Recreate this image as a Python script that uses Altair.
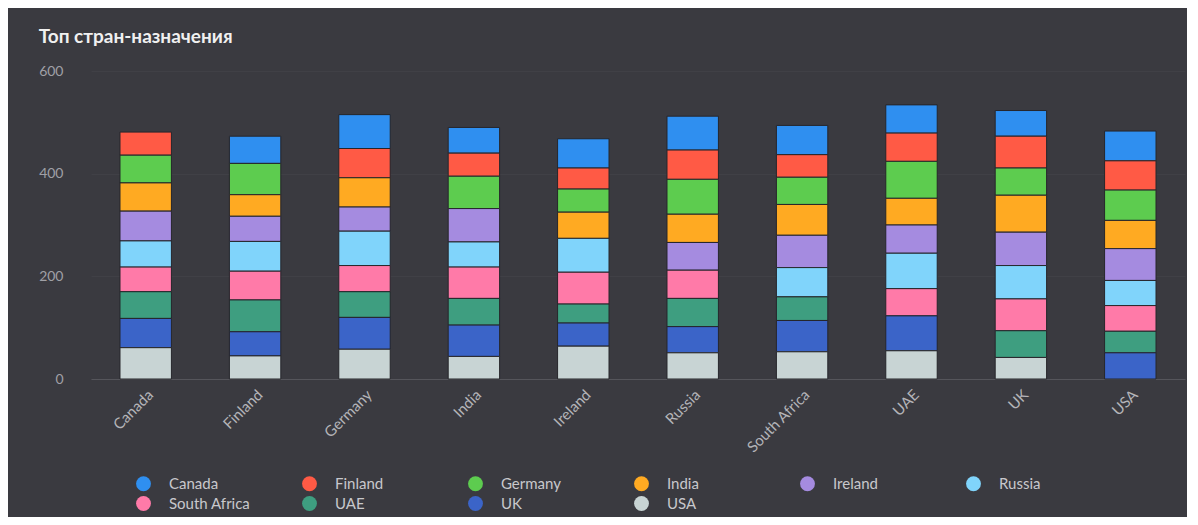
import altair as alt
import pandas as pd

origins = ["Canada", "Finland", "Germany", "India", "Ireland", "Russia",
           "South Africa", "UAE", "UK", "USA"]
destinations = ["Canada", "Finland", "Germany", "India", "Ireland", "Russia",
                "South Africa", "UAE", "UK", "USA"]
colors = ["#2f8ff0", "#ff5a45", "#5dcc4f", "#ffaa22", "#a58be0", "#80d4fb",
          "#ff7aa8", "#3e9e80", "#3b64c8", "#c8d4d4"]

# values per destination, listed in origin order (None = the country itself)
canada = [None, 53, 66, 50, 57, 66, 57, 55, 50, 58]
finland = [45, None, 57, 45, 41, 57, 44, 55, 62, 57]
germany = [54, 61, None, 63, 45, 68, 53, 72, 53, 59]
india = [55, 42, 57, None, 51, 55, 60, 52, 72, 55]
ireland = [58, 49, 47, 65, None, 54, 63, 55, 65, 62]
russia = [51, 58, 67, 49, 66, None, 57, 69, 65, 49]
south_africa = [48, 56, 51, 61, 62, 55, None, 53, 62, 50]
uae = [52, 62, 50, 52, 37, 55, 46, None, 52, 42]
uk = [57, 47, 62, 61, 45, 51, 61, 68, None, 51]
usa = [61, 45, 58, 44, 64, 51, 53, 55, 42, None]

series = [canada, finland, germany, india, ireland, russia, south_africa, uae, uk, usa]

rows = []
for di, (dest, vals) in enumerate(zip(destinations, series)):
    for orig, v in zip(origins, vals):
        if v is not None:
            rows.append({"origin": orig, "dest": dest, "idx": di, "value": v})
df = pd.DataFrame(rows)

font = "Lato"

chart = alt.Chart(df).mark_bar(stroke="#26262b", strokeWidth=1).encode(
    x=alt.X("origin:N", sort=origins, title=None,
            scale=alt.Scale(paddingInner=0.53, paddingOuter=0.265),
            axis=alt.Axis(labelAngle=315, labelColor="#b4b4b8", labelFontSize=15,
                          labelFont=font, ticks=False, domain=True,
                          domainColor="#55555b", labelPadding=8)),
    y=alt.Y("value:Q", stack="zero", title=None,
            scale=alt.Scale(domain=[0, 600]),
            axis=alt.Axis(values=[0, 200, 400, 600], labelColor="#a0a0a6",
                          labelFontSize=14, labelFont=font, ticks=False,
                          domain=False, labelPadding=28, grid=True,
                          gridColor="#46464c", gridOpacity=0.5)),
    color=alt.Color("dest:N", scale=alt.Scale(domain=destinations, range=colors),
                    legend=alt.Legend(orient="none", legendX=45, legendY=405,
                                      direction="horizontal", columns=6,
                                      gridAlign="all", columnPadding=51,
                                      rowPadding=4, title=None,
                                      symbolType="circle", symbolSize=220,
                                      symbolStrokeWidth=0, labelOffset=18,
                                      labelColor="#c8c8cc", labelFontSize=15,
                                      labelFont=font)),
    order=alt.Order("idx:Q", sort="descending"),
    tooltip=["origin", "dest", "value"],
).properties(
    width=1094,
    height=308,
    padding={"left": 30, "top": 20, "right": 2, "bottom": 5},
    title=alt.TitleParams("Топ стран-назначения", anchor="start", frame="bounds",
                          color="#f0f0f0", fontSize=19, fontWeight="bold",
                          font=font, offset=17),
).configure(
    background="#3a3a40",
).configure_view(
    stroke=None,
)

chart.save("out.html", embed_options={"renderer": "svg", "actions": False})
